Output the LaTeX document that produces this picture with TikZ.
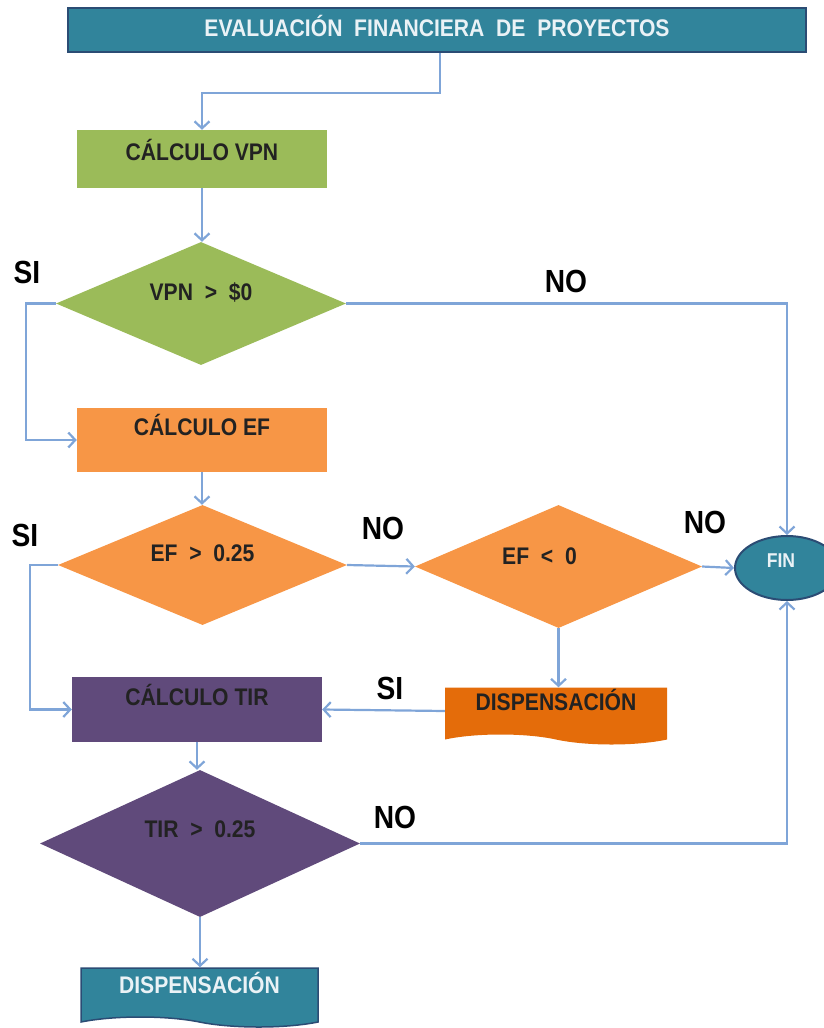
\documentclass[tikz,border=0pt]{standalone}
\usepackage{fontspec}
\setmainfont{Liberation Sans}[FakeStretch=0.88]
\usetikzlibrary{shapes.geometric,shapes.symbols,arrows.meta}
\definecolor{teal1}{HTML}{31849B}
\definecolor{navy}{HTML}{2B4C74}
\definecolor{green1}{HTML}{9BBB59}
\definecolor{orange1}{HTML}{F79646}
\definecolor{orange2}{HTML}{E46C0A}
\definecolor{purple1}{HTML}{604A7B}
\definecolor{connc}{HTML}{7FA5D8}
\definecolor{ink}{HTML}{222222}
\definecolor{paper}{HTML}{EAF2F6}
\begin{document}
\begin{tikzpicture}[x=1pt,y=-1pt,
  every node/.style={font=\bfseries\fontsize{24}{27}\selectfont, inner sep=0pt, text height=17pt},
  procbox/.style={rectangle, text=ink},
  decision/.style={diamond, shape aspect=2.3, text=ink},
  darkshape/.style={fill=teal1, draw=navy, line width=2pt, text=paper},
  lbl/.style={font=\bfseries\fontsize{32}{35}\selectfont, text=black, text height=22pt, text depth=0pt},
  conn/.style={draw=connc, line width=2.2pt, -{Straight Barb[length=7pt,width=15pt]}}
]
\useasboundingbox (0,0) rectangle (823,1028);

% nodes
\node[darkshape, rectangle, minimum width=738, minimum height=44, text depth=4pt] (title) at (437,30) {EVALUACIÓN~~FINANCIERA~~DE~~PROYECTOS};
\node[procbox, fill=green1, minimum width=250, minimum height=58, text depth=14pt] (vpn) at (202,159) {CÁLCULO VPN};
\node[decision, fill=green1, minimum width=290, minimum height=123, text depth=24pt] (d1) at (201,303.5) {VPN~~>~~\$0};
\node[procbox, fill=orange1, minimum width=250, minimum height=64, text depth=26pt] (ef) at (202,440) {CÁLCULO EF};
\node[decision, fill=orange1, minimum width=289, minimum height=120, text depth=24pt] (d2) at (202.5,565) {EF~~>~~0.25};
\node[decision, fill=orange1, minimum width=287, minimum height=123, text depth=21pt] (d3) at (558.5,566.5) {EF~~<~~0\hspace*{38pt}};
\node[ellipse, darkshape, minimum width=104, minimum height=64, text depth=18pt, font=\bfseries\fontsize{20}{24}\selectfont] (fin) at (787,568) {FIN\hspace*{12pt}};
\node[tape, tape bend top=none, tape bend bottom=out and in, tape bend height=10pt, fill=orange2, text=ink, minimum width=222, minimum height=57, text depth=18pt] (disp1) at (556,711) {DISPENSACIÓN};
\node[procbox, fill=purple1, minimum width=250, minimum height=65, text depth=25pt] (tir) at (197,709.5) {CÁLCULO TIR};
\node[decision, fill=purple1, minimum width=320, minimum height=147, text depth=30pt] (d4) at (200,843.5) {TIR~~>~~0.25};
\node[tape, tape bend top=none, tape bend bottom=out and in, tape bend height=10pt, darkshape, line width=1.5pt, minimum width=237, minimum height=59, text depth=15pt] (disp2) at (199.5,992.5) {DISPENSACIÓN};

% labels
\node[lbl] (si1) at (27,272) {SI};
\node[lbl] (no1) at (566,281) {NO};
\node[lbl] (si2) at (25,535) {SI};
\node[lbl] (no2) at (383,528) {NO};
\node[lbl] (no3) at (705,522) {NO};
\node[lbl] (si3) at (390,688) {SI};
\node[lbl] (no4) at (395,817) {NO};

% connectors
\draw[conn] ([xshift=3pt]title.south) -- ++(0,40) -| (vpn.north);
\draw[conn] (vpn.south) -- (vpn.south |- d1.north);
\draw[conn] (d1.west) -- ++(-30,0) |- (ef.west);
\draw[conn] (d1.east) -| (fin.north);
\draw[conn] (ef.south) -- (ef.south |- d2.north);
\draw[conn] (d2.west) -- ++(-28,0) |- (tir.west);
\draw[conn] (d2.east) -- (d3.west);
\draw[conn] (d3.east) -- (fin.west);
\draw[conn] (d3.south) -- (d3.south |- disp1.north);
\draw[conn] (disp1.west) -- (tir.east);
\draw[conn] (tir.south) -- (tir.south |- d4.north);
\draw[conn] (d4.east) -| (fin.south);
\draw[conn] (d4.south) -- (d4.south |- disp2.north);
\end{tikzpicture}
\end{document}
